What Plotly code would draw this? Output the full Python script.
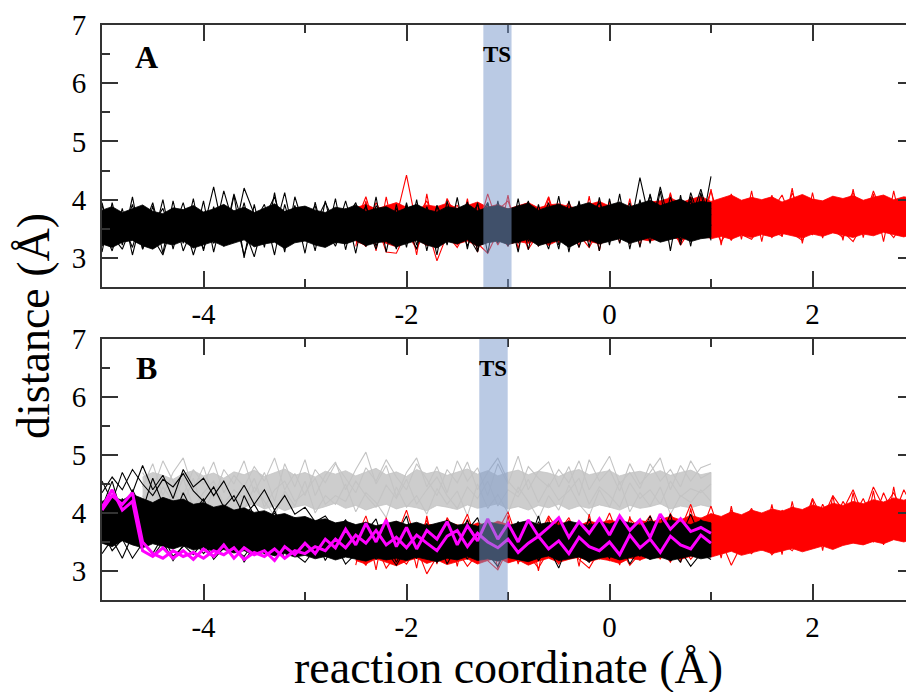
import numpy as np
import plotly.graph_objects as go

# ---------------- data ----------------
X_TICK_VALS = [-4, -2, 0, 2]
X_TICK_TEXT = ["-4", "-2", "0", "2"]
Y_TICK_VALS = [3, 4, 5, 6, 7]
Y_TICK_TEXT = ["3", "4", "5", "6", "7"]

# sampling grids (reaction coordinate, Å)
X_BLACK = np.linspace(-5.0, 1.0, 61)
X_RED = np.linspace(-2.5, 3.0, 56)
X_GRAY = np.linspace(-4.6, 1.0, 57)

TS_A = [-1.243, -0.965]
TS_B = [-1.283, -1.003]

# ---- Panel A, black trajectories (dense core + individual traces)
A_black_lo = [3.24, 3.18, 3.27, 3.30, 3.21, 3.15, 3.26, 3.22, 3.29, 3.17,
              3.23, 3.28, 3.20, 3.25, 3.31, 3.19, 3.24, 3.27, 3.16, 3.26,
              3.29, 3.22, 3.18, 3.27, 3.24, 3.30, 3.21, 3.26, 3.28, 3.19,
              3.25, 3.30, 3.22, 3.17, 3.28, 3.24, 3.31, 3.20, 3.26, 3.29,
              3.23, 3.27, 3.32, 3.21, 3.26, 3.30, 3.18, 3.27, 3.31, 3.24,
              3.29, 3.33, 3.25, 3.30, 3.35, 3.27, 3.32, 3.36, 3.28, 3.33,
              3.35]
A_black_hi = [3.82, 3.88, 3.78, 3.85, 3.91, 3.80, 3.76, 3.86, 3.83, 3.90,
              3.79, 3.84, 3.92, 3.81, 3.87, 3.78, 3.85, 3.93, 3.80, 3.86,
              3.89, 3.82, 3.78, 3.87, 3.84, 3.91, 3.80, 3.85, 3.88, 3.79,
              3.86, 3.92, 3.83, 3.79, 3.88, 3.85, 3.93, 3.81, 3.87, 3.90,
              3.84, 3.89, 3.94, 3.82, 3.88, 3.92, 3.85, 3.90, 3.95, 3.86,
              3.91, 3.96, 3.88, 3.93, 3.99, 3.90, 3.95, 4.01, 3.92, 3.97,
              3.95]
A_black_1 = [3.55, 3.12, 3.70, 3.35, 3.88, 3.20, 3.62, 3.45, 3.95, 3.30,
             3.50, 4.22, 3.40, 3.75, 3.05, 3.60, 3.92, 3.28, 3.70, 3.48,
             3.85, 3.22, 3.66, 3.40, 3.98, 3.35, 3.58, 3.15, 3.72, 3.50,
             3.90, 3.32, 3.62, 3.18, 3.80, 3.45, 3.96, 3.30, 3.68, 3.40,
             3.82, 3.25, 3.70, 3.50, 3.95, 3.22, 3.65, 3.40, 3.88, 3.55,
             3.30, 3.92, 3.48, 4.38, 3.60, 3.35, 4.05, 3.52, 3.98, 3.45,
             4.40]
A_black_2 = [3.20, 3.65, 3.40, 3.92, 3.15, 3.58, 3.85, 3.30, 3.68, 3.05,
             3.62, 3.38, 4.15, 3.55, 3.85, 3.25, 3.70, 4.05, 3.42, 3.90,
             3.35, 3.78, 3.52, 3.20, 3.65, 3.95, 3.40, 3.75, 3.28, 3.85,
             3.55, 3.15, 3.88, 3.42, 3.70, 3.25, 3.60, 3.92, 3.38, 3.75,
             3.45, 3.90, 3.28, 3.62, 3.15, 3.80, 3.48, 3.95, 3.35, 3.70,
             3.62, 3.40, 3.85, 3.52, 4.08, 3.45, 3.78, 3.30, 4.12, 3.60,
             3.85]
A_black_3 = [3.90, 3.38, 3.15, 3.60, 3.48, 3.95, 3.25, 3.80, 3.12, 3.55,
             3.15, 3.70, 3.30, 4.10, 3.50, 3.02, 3.68, 3.45, 4.12, 3.30,
             3.60, 3.90, 3.20, 3.75, 3.45, 3.62, 3.88, 3.40, 3.55, 3.18,
             3.70, 3.48, 3.25, 3.90, 3.55, 3.75, 3.20, 3.65, 3.95, 3.30,
             3.60, 3.42, 3.98, 3.30, 3.72, 3.55, 3.20, 3.85, 3.62, 3.28,
             3.75, 3.58, 3.25, 3.85, 3.42, 4.22, 3.50, 3.90, 3.65, 4.18,
             3.55]
A_black_4 = [3.45, 3.85, 3.60, 3.18, 3.75, 3.35, 3.05, 3.65, 3.50, 3.88,
             3.70, 3.25, 3.55, 3.38, 4.20, 3.75, 3.42, 3.88, 3.10, 4.05,
             3.48, 3.60, 3.95, 3.58, 3.30, 3.72, 3.20, 3.90, 3.62, 3.35,
             3.42, 3.68, 3.50, 3.62, 3.35, 3.85, 3.40, 3.10, 3.82, 3.58,
             3.35, 3.65, 3.52, 3.78, 3.45, 3.90, 3.62, 3.18, 3.72, 3.95,
             3.50, 3.75, 3.62, 3.40, 3.90, 3.68, 3.38, 3.82, 3.52, 3.75,
             3.95]
A_black_5 = [3.10, 3.95, 3.22, 4.05, 3.15, 3.90, 3.08, 3.98, 3.25, 4.02,
             3.12, 3.88, 3.20, 4.08, 3.00, 3.92, 3.18, 4.12, 3.22, 3.85,
             3.08, 3.96, 3.25, 4.02, 3.14, 3.88, 3.20, 4.05, 3.10, 3.92,
             3.18, 4.00, 3.12, 3.90, 3.22, 4.04, 3.15, 3.95, 3.08, 3.98,
             3.20, 4.02, 3.14, 3.92, 3.25, 4.06, 3.10, 3.98, 3.18, 4.04,
             3.22, 4.10, 3.15, 4.00, 3.25, 4.15, 3.12, 4.08, 3.20, 4.12,
             3.30]
A_black_6 = [3.95, 3.25, 3.85, 3.05, 3.75, 3.30, 4.00, 3.15, 3.80, 3.22,
             3.98, 3.10, 3.82, 3.28, 3.95, 3.20, 3.78, 3.05, 3.92, 3.30,
             3.80, 3.12, 3.98, 3.25, 3.85, 3.08, 3.92, 3.20, 3.78, 3.15,
             3.95, 3.22, 3.82, 3.05, 3.98, 3.28, 3.88, 3.12, 3.95, 3.25,
             3.85, 3.10, 3.96, 3.20, 3.80, 3.15, 3.98, 3.28, 3.90, 3.12,
             4.02, 3.25, 3.95, 3.18, 4.10, 3.30, 3.92, 3.22, 4.05, 3.35,
             3.75]

# ---- Panel A, red trajectories
A_red_lo = [3.28, 3.22, 3.31, 3.25, 3.19, 3.27, 3.33, 3.21, 3.26, 3.30,
            3.24, 3.29, 3.20, 3.27, 3.32, 3.23, 3.28, 3.25, 3.31, 3.22,
            3.30, 3.26, 3.33, 3.28, 3.24, 3.31, 3.35, 3.27, 3.32, 3.29,
            3.34, 3.38, 3.30, 3.36, 3.41, 3.33, 3.37, 3.32, 3.39, 3.35,
            3.40, 3.36, 3.42, 3.38, 3.34, 3.41, 3.37, 3.43, 3.39, 3.35,
            3.41, 3.38, 3.44, 3.40, 3.36, 3.42]
A_red_hi = [3.86, 3.92, 3.84, 3.89, 3.95, 3.87, 3.83, 3.91, 3.88, 3.94,
            3.85, 3.90, 3.96, 3.87, 3.92, 3.84, 3.89, 3.95, 3.86, 3.91,
            3.93, 3.88, 3.85, 3.92, 3.97, 3.89, 3.94, 3.87, 3.91, 3.96,
            3.98, 4.03, 3.95, 4.01, 4.06, 3.97, 4.02, 4.08, 3.99, 4.04,
            4.00, 4.05, 3.96, 4.03, 4.09, 4.01, 3.98, 4.06, 4.02, 4.07,
            3.99, 4.04, 4.08, 4.00, 4.05, 4.02]
A_red_1 = [3.60, 4.05, 3.45, 3.90, 3.70, 4.42, 3.55, 3.85, 3.40, 4.02,
           3.65, 3.92, 3.48, 4.10, 3.58, 3.80, 3.35, 3.95, 3.62, 4.05,
           3.50, 3.88, 3.42, 3.75, 3.98, 3.55, 3.85, 3.40, 3.72, 3.95,
           3.60, 4.10, 3.50, 3.85, 3.65, 4.15, 3.55, 3.90, 3.72, 4.02,
           3.62, 3.95, 3.48, 4.12, 3.70, 3.88, 3.55, 4.05, 3.75, 3.92,
           3.60, 4.15, 3.70, 3.95, 3.58, 4.08]
A_red_2 = [3.35, 3.20, 3.62, 3.10, 3.08, 3.45, 3.15, 3.55, 2.95, 3.40,
           3.18, 3.50, 3.25, 3.08, 3.45, 3.20, 3.60, 3.15, 3.42, 3.22,
           3.55, 3.28, 3.40, 3.18, 3.50, 3.30, 3.62, 3.25, 3.48, 3.35,
           3.30, 3.58, 3.22, 3.50, 3.35, 3.62, 3.28, 3.55, 3.40, 3.32,
           3.58, 3.35, 3.62, 3.42, 3.30, 3.65, 3.38, 3.55, 3.45, 3.28,
           3.60, 3.40, 3.55, 3.35, 3.62, 3.42]
A_red_3 = [3.75, 3.50, 3.95, 3.62, 3.85, 3.40, 3.70, 3.98, 3.55, 3.80,
           3.90, 3.62, 3.75, 3.45, 3.82, 3.98, 3.50, 3.70, 3.88, 3.55,
           3.72, 3.95, 3.60, 3.80, 3.48, 3.72, 3.92, 3.58, 3.85, 3.65,
           3.88, 3.55, 3.75, 4.05, 3.62, 3.80, 3.95, 3.48, 3.82, 3.70,
           3.55, 3.82, 4.08, 3.62, 3.78, 3.50, 3.92, 3.68, 3.85, 4.12,
           3.75, 3.55, 3.88, 3.70, 3.95, 3.62]
A_red_4 = [3.48, 3.72, 3.30, 3.58, 3.40, 3.65, 3.82, 3.35, 3.60, 3.28,
           3.52, 3.70, 3.35, 3.60, 3.22, 3.55, 3.75, 3.42, 3.30, 3.68,
           3.40, 3.62, 3.75, 3.48, 3.58, 3.35, 3.50, 3.70, 3.42, 3.62,
           3.55, 3.35, 3.68, 3.42, 3.80, 3.38, 3.62, 3.30, 3.72, 3.45,
           3.70, 3.45, 3.38, 3.75, 3.52, 3.40, 3.72, 3.48, 3.35, 3.68,
           3.42, 3.72, 3.50, 3.80, 3.45, 3.65]
A_red_5 = [3.20, 3.98, 3.12, 4.05, 3.25, 3.92, 3.05, 4.10, 3.18, 3.95,
           3.22, 4.02, 3.10, 3.90, 3.28, 4.08, 3.15, 3.96, 3.20, 4.04,
           3.25, 3.92, 3.18, 4.06, 3.12, 3.98, 3.26, 4.02, 3.20, 3.94,
           3.30, 4.12, 3.25, 4.05, 3.35, 4.18, 3.22, 4.10, 3.32, 4.15,
           3.28, 4.08, 3.36, 4.20, 3.25, 4.12, 3.34, 4.05, 3.30, 4.18,
           3.35, 4.10, 3.28, 4.15, 3.38, 4.08]

# ---- Panel B, black trajectories
B_black_lo = [3.48, 3.42, 3.52, 3.45, 3.40, 3.47, 3.43, 3.38, 3.44, 3.36,
              3.40, 3.34, 3.37, 3.31, 3.35, 3.28, 3.32, 3.26, 3.30, 3.24,
              3.27, 3.21, 3.25, 3.19, 3.24, 3.20, 3.17, 3.23, 3.19, 3.22,
              3.18, 3.24, 3.20, 3.16, 3.22, 3.19, 3.25, 3.18, 3.21, 3.17,
              3.23, 3.19, 3.16, 3.22, 3.26, 3.18, 3.21, 3.24, 3.17, 3.22,
              3.25, 3.19, 3.23, 3.27, 3.20, 3.24, 3.18, 3.22, 3.26, 3.21,
              3.24]
B_black_hi = [4.20, 4.28, 4.22, 4.32, 4.25, 4.18, 4.27, 4.21, 4.24, 4.15,
              4.18, 4.10, 4.14, 4.05, 4.09, 4.01, 4.04, 3.96, 3.99, 3.92,
              3.94, 3.87, 3.90, 3.83, 3.86, 3.80, 3.84, 3.78, 3.82, 3.86,
              3.80, 3.84, 3.78, 3.83, 3.87, 3.79, 3.82, 3.77, 3.85, 3.81,
              3.78, 3.83, 3.87, 3.80, 3.84, 3.79, 3.86, 3.82, 3.78, 3.85,
              3.81, 3.87, 3.83, 3.79, 3.86, 3.82, 3.88, 3.84, 3.80, 3.87,
              3.83]
B_black_1 = [4.55, 4.20, 4.70, 4.35, 4.82, 4.40, 4.65, 4.25, 4.75, 4.45,
             4.60, 4.30, 4.55, 4.20, 4.48, 4.15, 4.40, 4.05, 4.30, 3.98,
             4.10, 3.85, 3.95, 3.70, 3.88, 3.60, 3.75, 3.52, 3.68, 3.45,
             3.62, 3.38, 3.72, 3.45, 3.58, 3.30, 3.65, 3.50, 3.78, 3.42,
             3.60, 3.85, 3.40, 3.70, 3.55, 3.88, 3.45, 3.62, 3.35, 3.75,
             3.52, 3.90, 3.48, 3.72, 3.60, 3.95, 3.55, 3.80, 3.65, 3.88,
             3.70]
B_black_2 = [3.70, 3.35, 3.55, 3.22, 3.48, 3.30, 3.60, 3.25, 3.42, 3.55,
             3.30, 3.48, 3.62, 3.38, 3.25, 3.50, 3.35, 3.18, 3.42, 3.28,
             3.15, 3.38, 3.25, 3.45, 3.12, 3.30, 3.48, 3.20, 3.35, 3.10,
             3.40, 3.22, 3.55, 3.15, 3.38, 3.48, 3.20, 3.62, 3.30, 3.08,
             3.45, 3.25, 3.58, 3.18, 3.40, 3.05, 3.52, 3.30, 3.15, 3.48,
             3.22, 3.55, 3.12, 3.40, 3.28, 3.50, 3.18, 3.35, 3.08, 3.30,
             3.20]
B_black_3 = [4.10, 4.55, 3.95, 4.40, 4.05, 4.60, 4.15, 3.90, 4.35, 4.00,
             4.25, 3.85, 4.12, 3.78, 4.30, 3.95, 3.70, 4.05, 3.62, 3.90,
             3.55, 3.80, 3.42, 3.68, 3.38, 3.72, 3.48, 3.60, 3.30, 3.55,
             3.70, 3.48, 3.82, 3.35, 3.65, 3.58, 3.88, 3.42, 3.55, 3.80,
             3.50, 3.68, 3.32, 3.85, 3.60, 3.42, 3.78, 3.52, 3.90, 3.45,
             3.68, 3.38, 3.82, 3.55, 3.95, 3.48, 3.75, 3.60, 3.98, 3.55,
             3.62]
B_black_4 = [3.95, 3.60, 4.25, 3.80, 3.40, 4.00, 3.70, 4.20, 3.58, 3.88,
             3.65, 4.10, 3.55, 3.85, 3.40, 3.72, 3.95, 3.50, 3.78, 3.35,
             3.62, 3.45, 3.70, 3.25, 3.55, 3.40, 3.65, 3.35, 3.58, 3.72,
             3.30, 3.58, 3.42, 3.68, 3.25, 3.52, 3.40, 3.75, 3.35, 3.60,
             3.38, 3.62, 3.50, 3.28, 3.72, 3.48, 3.35, 3.65, 3.42, 3.58,
             3.40, 3.65, 3.35, 3.58, 3.45, 3.70, 3.32, 3.62, 3.48, 3.40,
             3.45]
B_black_5 = [4.35, 4.62, 4.40, 4.75, 4.50, 4.30, 4.58, 4.45, 4.68, 4.38,
             4.20, 4.45, 4.10, 4.30, 3.95, 4.15, 3.85, 4.00, 3.75, 3.92,
             3.70, 3.55, 3.85, 3.45, 3.78, 3.40, 3.68, 3.90, 3.35, 3.62,
             3.95, 3.30, 3.75, 3.50, 3.88, 3.25, 3.70, 3.92, 3.38, 3.65,
             3.28, 3.85, 3.45, 3.95, 3.32, 3.72, 3.55, 3.25, 3.82, 3.60,
             3.35, 3.92, 3.48, 3.25, 3.78, 3.55, 3.98, 3.30, 3.70, 3.85,
             3.50]
B_black_6 = [3.30, 3.55, 3.22, 3.62, 3.35, 3.25, 3.50, 3.18, 3.45, 3.28,
             3.52, 3.20, 3.40, 3.58, 3.15, 3.45, 3.30, 3.62, 3.22, 3.48,
             3.35, 3.60, 3.18, 3.50, 3.28, 3.65, 3.20, 3.42, 3.55, 3.15,
             3.48, 3.70, 3.25, 3.58, 3.12, 3.45, 3.68, 3.30, 3.55, 3.22,
             3.62, 3.35, 3.72, 3.18, 3.50, 3.65, 3.25, 3.58, 3.80, 3.32,
             3.55, 3.28, 3.68, 3.42, 3.20, 3.75, 3.38, 3.15, 3.62, 3.45,
             3.35]

# ---- Panel B, gray trajectories
B_gray_lo = [4.12, 4.06, 4.15, 4.09, 4.03, 4.11, 4.17, 4.08, 4.13, 4.05,
             4.10, 4.16, 4.07, 4.12, 4.04, 4.10, 4.14, 4.06, 4.11, 4.17,
             4.08, 4.13, 4.05, 4.11, 4.15, 4.07, 4.12, 4.09, 4.04, 4.13,
             4.10, 4.06, 4.14, 4.08, 4.12, 4.16, 4.07, 4.11, 4.05, 4.13,
             4.09, 4.15, 4.06, 4.12, 4.08, 4.14, 4.10, 4.05, 4.13, 4.08,
             4.11, 4.16, 4.07, 4.12, 4.09, 4.14, 4.10]
B_gray_hi = [4.62, 4.70, 4.65, 4.58, 4.68, 4.73, 4.64, 4.69, 4.60, 4.71,
             4.66, 4.74, 4.63, 4.69, 4.76, 4.65, 4.70, 4.62, 4.72, 4.67,
             4.73, 4.64, 4.70, 4.77, 4.66, 4.71, 4.63, 4.75, 4.68, 4.72,
             4.65, 4.71, 4.76, 4.67, 4.73, 4.64, 4.70, 4.74, 4.66, 4.72,
             4.69, 4.63, 4.71, 4.75, 4.66, 4.70, 4.73, 4.64, 4.69, 4.72,
             4.67, 4.73, 4.65, 4.70, 4.74, 4.66, 4.70]
B_gray_1 = [4.45, 4.85, 4.30, 4.70, 4.95, 4.40, 4.80, 4.25, 4.75, 4.50,
            4.90, 4.35, 4.70, 4.20, 4.85, 4.45, 4.92, 4.30, 4.65, 4.88,
            4.40, 4.75, 5.05, 4.50, 4.82, 4.28, 4.70, 4.95, 4.45, 4.80,
            4.35, 4.90, 4.55, 4.78, 4.30, 4.85, 4.50, 4.98, 4.40, 4.72,
            4.88, 4.45, 4.80, 4.30, 4.92, 4.55, 4.75, 4.38, 4.85, 4.50,
            4.70, 4.95, 4.40, 4.82, 4.55, 4.78, 4.85]
B_gray_2 = [4.20, 4.50, 4.05, 4.35, 4.15, 4.60, 3.98, 4.40, 4.10, 4.30,
            4.05, 4.45, 4.20, 3.95, 4.38, 4.12, 4.55, 4.00, 4.30, 4.15,
            4.50, 4.02, 4.35, 4.18, 3.92, 4.45, 4.10, 4.30, 3.98, 4.42,
            4.15, 4.38, 3.95, 4.50, 4.08, 4.32, 4.00, 4.45, 4.20, 3.90,
            4.30, 4.05, 4.48, 4.15, 3.95, 4.40, 4.10, 4.55, 4.02, 4.35,
            4.12, 4.45, 3.98, 4.30, 4.18, 4.40, 4.20]
B_gray_3 = [4.70, 4.40, 4.90, 4.55, 4.30, 4.75, 4.50, 4.88, 4.35, 4.65,
            4.45, 4.80, 4.55, 4.95, 4.40, 4.68, 4.30, 4.75, 4.52, 4.85,
            4.60, 4.35, 4.78, 4.55, 4.92, 4.62, 4.40, 4.85, 4.58, 4.30,
            4.75, 4.52, 4.88, 4.40, 4.70, 4.95, 4.55, 4.35, 4.80, 4.60,
            4.45, 4.75, 4.52, 4.90, 4.40, 4.68, 4.98, 4.50, 4.70, 4.42,
            4.85, 4.55, 4.75, 4.45, 4.90, 4.60, 4.70]
B_gray_4 = [4.30, 4.05, 4.45, 4.20, 4.60, 4.10, 4.35, 4.55, 4.15, 4.40,
            4.25, 4.60, 4.10, 4.40, 4.55, 4.20, 4.35, 4.60, 4.15, 4.30,
            4.20, 4.55, 4.30, 4.10, 4.48, 4.25, 4.58, 4.15, 4.40, 4.62,
            4.30, 4.08, 4.45, 4.25, 4.55, 4.12, 4.40, 4.28, 4.58, 4.18,
            4.50, 4.22, 4.38, 4.60, 4.15, 4.45, 4.30, 4.10, 4.52, 4.25,
            4.40, 4.15, 4.55, 4.28, 4.42, 4.35, 4.50]

# ---- Panel B, red trajectories
B_red_lo = [3.18, 3.12, 3.21, 3.15, 3.09, 3.17, 3.22, 3.13, 3.19, 3.11,
            3.16, 3.21, 3.12, 3.18, 3.23, 3.14, 3.19, 3.10, 3.17, 3.22,
            3.15, 3.20, 3.24, 3.16, 3.21, 3.18, 3.13, 3.22, 3.19, 3.25,
            3.22, 3.27, 3.20, 3.26, 3.31, 3.24, 3.29, 3.34, 3.27, 3.32,
            3.36, 3.30, 3.35, 3.39, 3.33, 3.38, 3.43, 3.37, 3.44, 3.48,
            3.45, 3.51, 3.47, 3.54, 3.50, 3.56]
B_red_hi = [3.76, 3.82, 3.74, 3.80, 3.85, 3.77, 3.73, 3.81, 3.78, 3.84,
            3.79, 3.75, 3.83, 3.78, 3.86, 3.80, 3.76, 3.84, 3.79, 3.82,
            3.85, 3.80, 3.78, 3.86, 3.82, 3.88, 3.83, 3.79, 3.87, 3.84,
            3.89, 3.94, 3.88, 3.96, 3.91, 3.99, 3.94, 4.02, 3.97, 4.05,
            4.00, 4.07, 4.03, 4.10, 4.06, 4.14, 4.09, 4.17, 4.13, 4.20,
            4.16, 4.23, 4.19, 4.26, 4.22, 4.28]
B_red_1 = [3.55, 3.95, 3.40, 3.82, 3.60, 4.05, 3.48, 3.88, 3.35, 3.92,
           3.62, 3.98, 3.45, 3.85, 3.70, 4.02, 3.50, 3.88, 3.58, 3.95,
           3.68, 3.92, 3.52, 3.85, 3.62, 4.00, 3.55, 3.90, 3.72, 3.95,
           3.60, 3.98, 3.72, 4.15, 3.65, 4.12, 3.58, 4.05, 3.80, 4.08,
           3.70, 4.02, 3.85, 4.10, 3.75, 4.25, 3.90, 4.30, 4.05, 4.40,
           3.95, 4.45, 4.10, 4.35, 4.00, 4.30]
B_red_2 = [3.30, 3.10, 3.45, 3.05, 3.28, 3.12, 3.40, 2.95, 3.25, 3.15,
           3.35, 3.08, 3.30, 3.18, 3.02, 3.38, 3.15, 3.28, 3.05, 3.35,
           3.12, 3.40, 3.20, 3.05, 3.35, 3.18, 3.42, 3.10, 3.30, 3.22,
           3.40, 3.15, 3.48, 3.20, 3.42, 3.25, 3.52, 3.10, 3.45, 3.30,
           3.55, 3.28, 3.48, 3.35, 3.62, 3.40, 3.55, 3.45, 3.70, 3.52,
           3.65, 3.50, 3.75, 3.58, 3.80, 3.62]
B_red_3 = [3.65, 3.40, 3.72, 3.50, 3.85, 3.38, 3.60, 3.75, 3.45, 3.68,
           3.42, 3.70, 3.55, 3.35, 3.78, 3.48, 3.65, 3.40, 3.82, 3.55,
           3.45, 3.75, 3.38, 3.62, 3.50, 3.80, 3.42, 3.68, 3.55, 3.35,
           3.85, 3.50, 3.70, 3.42, 3.92, 3.55, 3.78, 3.48, 3.85, 3.62,
           3.88, 3.60, 4.05, 3.72, 3.95, 3.68, 4.15, 3.80, 4.20, 3.92,
           4.25, 3.85, 4.35, 3.95, 4.40, 4.05]
B_red_4 = [3.45, 3.62, 3.30, 3.58, 3.25, 3.52, 3.70, 3.35, 3.60, 3.28,
           3.55, 3.30, 3.62, 3.48, 3.25, 3.58, 3.40, 3.68, 3.32, 3.50,
           3.38, 3.58, 3.28, 3.52, 3.70, 3.35, 3.60, 3.42, 3.65, 3.48,
           3.35, 3.62, 3.30, 3.55, 3.38, 3.70, 3.32, 3.65, 3.45, 3.58,
           3.42, 3.68, 3.50, 3.75, 3.45, 3.62, 3.58, 3.85, 3.65, 3.78,
           3.72, 3.90, 3.68, 3.98, 3.75, 3.92]
B_red_5 = [3.10, 3.85, 3.02, 3.92, 3.15, 3.80, 3.05, 3.95, 3.12, 3.88,
           3.08, 3.90, 3.18, 3.82, 3.04, 3.96, 3.12, 3.86, 3.00, 3.92,
           3.15, 3.88, 3.08, 3.98, 3.20, 3.85, 3.10, 3.94, 3.18, 3.90,
           3.20, 4.00, 3.15, 4.08, 3.25, 3.98, 3.22, 4.12, 3.30, 4.05,
           3.35, 4.15, 3.28, 4.20, 3.40, 4.25, 3.35, 4.30, 3.45, 4.35,
           3.50, 4.38, 3.45, 4.45, 3.55, 4.40]

# ---- Panel B, highlighted (magenta) trajectories
B_mag_1 = [4.10, 4.40, 4.05, 4.20, 3.35, 3.25, 3.40, 3.22, 3.35, 3.20,
           3.38, 3.25, 3.45, 3.22, 3.40, 3.28, 3.35, 3.18, 3.42, 3.28,
           3.48, 3.30, 3.55, 3.40, 3.72, 3.45, 3.82, 3.50, 3.88, 3.42,
           3.75, 3.38, 3.70, 3.55, 3.85, 3.45, 3.78, 3.52, 3.90, 3.55,
           3.82, 3.50, 3.88, 3.60, 3.75, 3.92, 3.58, 3.85, 3.65, 3.90,
           3.62, 3.95, 3.70, 3.88, 3.58, 3.98, 3.72, 3.90, 3.68, 3.75,
           3.65]
B_mag_2 = [4.05, 4.30, 4.15, 4.35, 3.50, 3.30, 3.22, 3.35, 3.25, 3.32,
           3.22, 3.35, 3.28, 3.40, 3.20, 3.32, 3.25, 3.38, 3.22, 3.35,
           3.30, 3.42, 3.35, 3.55, 3.40, 3.62, 3.48, 3.70, 3.45, 3.58,
           3.40, 3.62, 3.48, 3.35, 3.60, 3.70, 3.42, 3.65, 3.50, 3.40,
           3.55, 3.32, 3.48, 3.60, 3.38, 3.52, 3.30, 3.58, 3.42, 3.35,
           3.50, 3.28, 3.62, 3.40, 3.55, 3.32, 3.60, 3.45, 3.38, 3.62,
           3.48]

A_black_traces = [A_black_1, A_black_2, A_black_3, A_black_4, A_black_5, A_black_6]
A_red_traces = [A_red_1, A_red_2, A_red_3, A_red_4, A_red_5]
B_black_traces = [B_black_1, B_black_2, B_black_3, B_black_4, B_black_5, B_black_6]
B_gray_traces = [B_gray_1, B_gray_2, B_gray_3, B_gray_4]
B_red_traces = [B_red_1, B_red_2, B_red_3, B_red_4, B_red_5]

for name, arr, xs in [("A_black", [A_black_lo, A_black_hi] + A_black_traces, X_BLACK),
                      ("A_red", [A_red_lo, A_red_hi] + A_red_traces, X_RED),
                      ("B_black", [B_black_lo, B_black_hi, B_mag_1, B_mag_2] + B_black_traces, X_BLACK),
                      ("B_gray", [B_gray_lo, B_gray_hi] + B_gray_traces, X_GRAY),
                      ("B_red", [B_red_lo, B_red_hi] + B_red_traces, X_RED)]:
    for i, a in enumerate(arr):
        assert len(a) == len(xs), (name, i, len(a), len(xs))

# ---------------- styles ----------------
BLACK = "#000000"
RED = "#ff0000"
GRAY = "#c4c4c4"
GRAY_FILL = "#cdcdcd"
MAGENTA = "#ff00ff"
BAND = "rgba(123,154,204,0.52)"
AXIS = "#333333"
SERIF = "Liberation Serif"

fig = go.Figure()


def add_group(xs, lo, hi, traces, color, xa, ya, fillcolor=None):
    xs = list(xs)
    fc = fillcolor or color
    fig.add_trace(go.Scatter(x=xs + xs[::-1], y=list(hi) + list(lo)[::-1],
                             fill="toself", fillcolor=fc, mode="lines",
                             line=dict(color=color, width=0.8),
                             xaxis=xa, yaxis=ya, hoverinfo="skip"))
    for t in traces:
        fig.add_trace(go.Scatter(x=xs, y=t, mode="lines",
                                 line=dict(color=color, width=1.1),
                                 xaxis=xa, yaxis=ya, hoverinfo="skip"))


# Panel A
add_group(X_RED, A_red_lo, A_red_hi, A_red_traces, RED, "x", "y")
add_group(X_BLACK, A_black_lo, A_black_hi, A_black_traces, BLACK, "x", "y")

# Panel B
add_group(X_GRAY, B_gray_lo, B_gray_hi, B_gray_traces, GRAY, "x2", "y2", GRAY_FILL)
add_group(X_RED, B_red_lo, B_red_hi, B_red_traces, RED, "x2", "y2")
add_group(X_BLACK, B_black_lo, B_black_hi, B_black_traces, BLACK, "x2", "y2")
for t in [B_mag_2, B_mag_1]:
    fig.add_trace(go.Scatter(x=list(X_BLACK), y=t, mode="lines",
                             line=dict(color=MAGENTA, width=3),
                             xaxis="x2", yaxis="y2", hoverinfo="skip"))

common = dict(showline=True, linewidth=2, linecolor=AXIS, mirror="ticks",
              ticks="inside", ticklen=16, tickwidth=1.5, tickcolor=AXIS,
              showgrid=False, zeroline=False, automargin=False,
              tickfont=dict(family=SERIF, size=29, color="black"))

xcommon = dict(common, range=[-5, 3], tickmode="array", tickvals=X_TICK_VALS,
               ticktext=X_TICK_TEXT,
               minor=dict(tickmode="array", tickvals=[-3, -1, 1], ticks="inside",
                          ticklen=8, tickwidth=1.5, tickcolor=AXIS))
ycommon = dict(common, range=[2.5, 7], tickmode="array", tickvals=Y_TICK_VALS,
               ticktext=Y_TICK_TEXT, ticklabelstandoff=8,
               minor=dict(tickmode="array", tickvals=[3.5, 4.5, 5.5, 6.5], ticks="inside",
                          ticklen=8, tickwidth=1.5, tickcolor=AXIS))

# the page adds an 8px body margin, so the figure is 8px smaller than the window
fig.update_layout(
    width=906, height=684,
    margin=dict(l=94, r=0, t=17, b=92),
    plot_bgcolor="white", paper_bgcolor="white",
    showlegend=False,
    xaxis=dict(xcommon, domain=[0, 1], anchor="y"),
    yaxis=dict(ycommon, domain=[0.5443, 1], anchor="x"),
    xaxis2=dict(xcommon, domain=[0, 1], anchor="y2"),
    yaxis2=dict(ycommon, domain=[0, 0.4539], anchor="x2"),
)

# transition-state bands
for (x0, x1), xr, yr in [(TS_A, "x", "y domain"), (TS_B, "x2", "y2 domain")]:
    fig.add_shape(type="rect", x0=x0, x1=x1, y0=0, y1=1, xref=xr, yref=yr,
                  fillcolor=BAND, line=dict(width=0), layer="above")

ann = []
ann.append(dict(x=sum(TS_A) / 2, y=6.49, xref="x", yref="y", text="<b>TS</b>",
                showarrow=False, font=dict(family=SERIF, size=23, color="black")))
ann.append(dict(x=sum(TS_B) / 2, y=6.5, xref="x2", yref="y2", text="<b>TS</b>",
                showarrow=False, font=dict(family=SERIF, size=23, color="black")))
ann.append(dict(x=-4.565, y=6.45, xref="x", yref="y", text="<b>A</b>",
                showarrow=False, font=dict(family=SERIF, size=32, color="black")))
ann.append(dict(x=-4.56, y=6.5, xref="x2", yref="y2", text="<b>B</b>",
                showarrow=False, font=dict(family=SERIF, size=32, color="black")))
ann.append(dict(x=0.5, y=-0.118, xref="paper", yref="paper", text="reaction coordinate (Å)",
                showarrow=False, xanchor="center", yanchor="middle",
                font=dict(family=SERIF, size=46, color="black")))
ann.append(dict(x=-0.085, y=0.4765, xref="paper", yref="paper", text="distance (Å)",
                showarrow=False, textangle=-90, xanchor="center", yanchor="middle",
                font=dict(family=SERIF, size=46, color="black")))
fig.update_layout(annotations=ann)

fig.write_html("out.html")
